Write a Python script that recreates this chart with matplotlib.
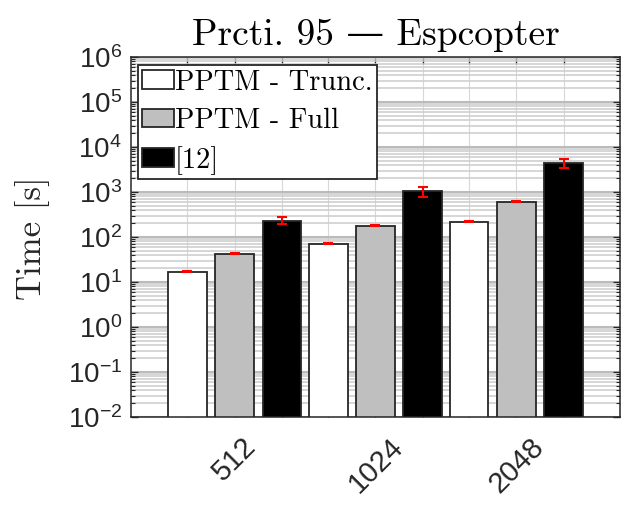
import numpy as np
import matplotlib.pyplot as plt
from matplotlib.ticker import LogLocator, NullFormatter

plt.rcParams['font.family'] = ['Liberation Sans']
plt.rcParams['mathtext.fontset'] = 'custom'
plt.rcParams['mathtext.rm'] = 'Liberation Sans'
plt.rcParams['mathtext.it'] = 'Liberation Sans:italic'
plt.rcParams['mathtext.bf'] = 'Liberation Sans:bold'

# data
sizes = ["512", "1024", "2048"]
methods = ["PPTM - Trunc.", "PPTM - Full", "[12]"]
trunc = [16.9, 71, 219]
full = [42.6, 178, 609]
ref12 = [227, 1036, 4345]
trunc_lo = [0.4, 1.6, 5]
trunc_hi = [0.4, 1.6, 5]
full_lo = [1.0, 4, 14]
full_hi = [1.0, 4, 14]
ref12_lo = [36, 249, 980]
ref12_hi = [47, 235, 985]

serif = ['cmr10', 'DejaVu Serif']
dark = '#262626'

fig = plt.figure(figsize=(6.27, 5.14), dpi=100)
ax = fig.add_axes([131 / 627, 97 / 514, 489 / 627, 360 / 514])

groups = np.arange(1, len(sizes) + 1)
offsets = [-0.336, 0.0, 0.336]
width = 0.275
series = [
    (trunc, trunc_lo, trunc_hi, 'white'),
    (full, full_lo, full_hi, '#bfbfbf'),
    (ref12, ref12_lo, ref12_hi, 'black'),
]

ticks = []
for (vals, lo, hi, col), off, name in zip(series, offsets, methods):
    x = groups + off
    ticks.extend(x)
    ax.bar(x, vals, width, color=col, edgecolor=dark, linewidth=1.3,
           label=name, zorder=2)
    ax.errorbar(x, vals, yerr=[lo, hi], fmt='none', ecolor='red',
                elinewidth=1.5, capsize=3.5, capthick=1.5, zorder=3)

ax.set_yscale('log')
ax.set_ylim(1e-2, 1e6)
ax.set_xlim(0.265, 3.735)
ax.yaxis.set_major_locator(LogLocator(base=10, numticks=20))
ax.yaxis.set_minor_locator(LogLocator(base=10, subs=np.arange(2, 10), numticks=20))
ax.yaxis.set_minor_formatter(NullFormatter())

ticks = sorted(ticks)
ax.set_xticks(ticks)
labels = []
for t in ticks:
    k = int(round(t)) - 1
    labels.append(sizes[k] if abs(t - round(t)) < 1e-6 else '')
ax.set_xticklabels(labels, rotation=45, ha='center', fontsize=21, color=dark)

ax.tick_params(axis='both', which='both', direction='in', top=True, right=True,
               colors=dark)
ax.tick_params(axis='both', which='major', length=5, width=1)
ax.tick_params(axis='y', which='minor', length=3, width=0.8)
ax.tick_params(axis='y', which='major', labelsize=20, pad=6.5)
ax.tick_params(axis='x', which='major', pad=11)

ax.set_axisbelow(True)
ax.yaxis.grid(True, which='major', color='#bbbbbb', linewidth=1.5)
ax.yaxis.grid(True, which='minor', color='#cccccc', linewidth=1.1)
ax.xaxis.grid(True, which='major', color='#d8d8d8', linewidth=0.8)

for sp in ax.spines.values():
    sp.set_color(dark)
    sp.set_linewidth(1.1)

ax.set_title("Prcti. 95 — Espcopter", fontsize=27, family=serif, pad=9)
ax.set_ylabel("Time [s]", fontsize=25, family=serif, color=dark)
ax.yaxis.set_label_coords(-0.165, 0.497)

leg = ax.legend(loc='upper left', bbox_to_anchor=(0.0143, 0.978),
                borderaxespad=0, fancybox=False, framealpha=1,
                prop={'family': serif, 'size': 20.5},
                handlelength=1.1, handleheight=0.62, handletextpad=0.05,
                borderpad=0.15, labelspacing=0.42)
leg.get_frame().set_edgecolor(dark)
leg.get_frame().set_linewidth(1.3)

fig.savefig('out.png', dpi=100)
